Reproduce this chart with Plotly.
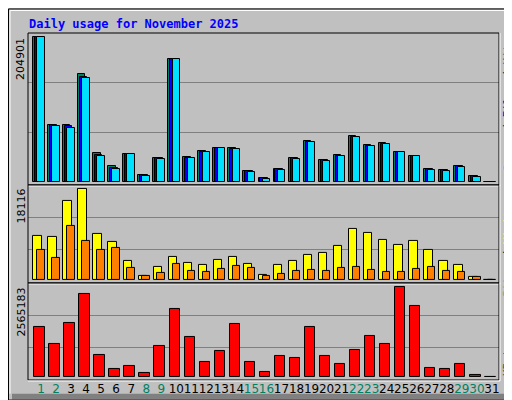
"""Daily usage for November 2025 (webalizer style)"""

import plotly.graph_objects as go
from plotly.subplots import make_subplots

days = list(range(1, 32))
weekend = [1, 2, 8, 9, 15, 16, 22, 23, 29, 30]

hits = [204901, 81100, 81100, 152000, 40800, 22700, 39400, 10200, 33800, 174300,
        35200, 43600, 47800, 47800, 15800, 6000, 18500, 33800, 57500, 31100,
        38000, 64400, 51900, 54700, 42200, 36600, 18500, 17200, 22700, 8800, 0]
files = [204901, 80400, 79000, 149000, 38500, 20000, 39400, 9500, 33200, 174300,
         34500, 42900, 47800, 47000, 15000, 5300, 17800, 33200, 56800, 30400,
         37300, 63700, 51200, 54000, 42200, 36600, 17800, 16500, 22000, 8100, 0]
pages = [204901, 79700, 75600, 146500, 36600, 18500, 39400, 8800, 32500, 174300,
         33800, 42200, 47800, 46400, 14400, 4600, 17200, 32500, 56100, 29700,
         36600, 63000, 50500, 53300, 42200, 36600, 17200, 15800, 21300, 7400, 0]

visits = [8660, 8460, 15750, 18116, 9050, 7490, 3780, 850, 2600, 4560,
          3390, 2990, 3970, 4560, 3190, 980, 2990, 3780, 4950, 5340,
          6700, 10220, 9240, 7880, 6900, 7680, 5920, 3780, 2990, 460, 0]
sites = [5920, 4360, 10810, 7680, 5920, 6310, 2410, 850, 1430, 3190,
         1820, 1630, 2210, 2800, 2410, 850, 1240, 1820, 2020, 1820,
         2410, 2600, 2020, 1630, 1630, 2210, 2600, 1820, 1630, 460, 0]

kbytes = [1413700, 936200, 1554100, 2368600, 627300, 234100, 318300, 121700, 880000, 1947300,
          1132800, 430700, 739600, 1497900, 430700, 149800, 599200, 543000, 1413700, 599200,
          374500, 767700, 1160900, 936200, 2565183, 2031600, 262100, 234100, 374500, 65500, 0]

HIT_C, FILE_C, PAGE_C = "#008060", "#0000FF", "#00E0FF"
VIS_C, SITE_C, KB_C = "#FFFF00", "#FF8000", "#FF0000"

fig = make_subplots(rows=3, cols=1, shared_xaxes=True, vertical_spacing=0,
                    row_heights=[155, 100, 99])

line = dict(color="black", width=1)
fig.add_trace(go.Bar(x=days, y=hits, marker=dict(color=HIT_C, line=line), offset=-0.53, width=0.49), row=1, col=1)
fig.add_trace(go.Bar(x=days, y=files, marker=dict(color=FILE_C, line=line), offset=-0.40, width=0.49), row=1, col=1)
fig.add_trace(go.Bar(x=days, y=pages, marker=dict(color=PAGE_C, line=line), offset=-0.25, width=0.49), row=1, col=1)
fig.add_trace(go.Bar(x=days, y=visits, marker=dict(color=VIS_C, line=line), offset=-0.51, width=0.56), row=2, col=1)
fig.add_trace(go.Bar(x=days, y=sites, marker=dict(color=SITE_C, line=line), offset=-0.25, width=0.49), row=2, col=1)
fig.add_trace(go.Bar(x=days, y=kbytes, marker=dict(color=KB_C, line=line), offset=-0.45, width=0.69), row=3, col=1)

# per-pixel scales for each panel
s1 = 204901 / 148
s2 = 18116 / 92.7
s3 = 2565183 / 91.4
grid = dict(showgrid=True, gridcolor="#808080", gridwidth=1, zeroline=False,
            showticklabels=False, ticks="", showline=False)
fig.update_yaxes(range=[-3 * s1, 152 * s1], tickvals=[50 * s1, 101 * s1], row=1, col=1, **grid)
fig.update_yaxes(range=[-3.3 * s2, 96.7 * s2], tickvals=[30.7 * s2, 63.4 * s2], row=2, col=1, **grid)
fig.update_yaxes(range=[-3.3 * s3, 95.7 * s3], tickvals=[29.7 * s3, 62.4 * s3], row=3, col=1, **grid)

ticktext = [f"<span style='color:{'#008060' if d in weekend else 'black'}'>{d}</span>" for d in days]
fig.update_xaxes(range=[0.135, 31.47], showgrid=False, zeroline=False, showline=False, ticks="")
fig.update_xaxes(tickvals=days, ticktext=ticktext, tickangle=0,
                 tickfont=dict(size=12, family="DejaVu Sans"), row=3, col=1)


def px(x):
    return (x - 20) / 471


def py(y):
    return (379 - y) / 354


P = dict(xref="paper", yref="paper")
shapes = [
    # outer frame and bevel
    dict(type="rect", x0=px(4), x1=px(511), y0=py(4), y1=py(399), fillcolor="#808080", line_width=0, layer="below", **P),
    dict(type="rect", x0=px(1), x1=px(505), y0=py(1), y1=py(393), fillcolor="#C0C0C0", line_width=0, layer="below", **P),
    dict(type="rect", x0=px(0.5), x1=px(511.5), y0=py(0.5), y1=py(399.5), line=dict(color="black", width=1), **P),
    dict(type="line", x0=px(2), x1=px(2), y0=py(2), y1=py(393), line=dict(color="white", width=1), **P),
    dict(type="line", x0=px(2), x1=px(504), y0=py(2), y1=py(2), line=dict(color="white", width=1), **P),
]
for top, bot in [(25, 180), (180, 280), (280, 379)]:
    shapes.append(dict(type="rect", x0=0, x1=1, y0=py(bot), y1=py(top),
                       line=dict(color="black", width=1), **P))
    shapes.append(dict(type="line", x0=0, x1=px(492), y0=py(bot + 1), y1=py(bot + 1),
                       line=dict(color="white", width=1), **P))
    shapes.append(dict(type="line", x0=px(492), x1=px(492), y0=py(bot + 1), y1=py(top),
                       line=dict(color="white", width=1), **P))

mono = "DejaVu Sans Mono"
annotations = [
    dict(x=px(19), y=py(16), text="<b>Daily usage for November 2025</b>", showarrow=False,
         xanchor="left", yanchor="middle", font=dict(family=mono, size=12, color="#0000FF")),
    dict(x=px(13), y=py(28), text="204901", textangle=-90, showarrow=False,
         xanchor="center", yanchor="top", font=dict(family="DejaVu Sans", size=11, color="black")),
    dict(x=px(13), y=py(182), text="18116", textangle=-90, showarrow=False,
         xanchor="center", yanchor="top", font=dict(family="DejaVu Sans", size=11, color="black")),
    dict(x=px(13), y=py(283), text="2565183", textangle=-90, showarrow=False,
         xanchor="center", yanchor="top", font=dict(family="DejaVu Sans", size=11, color="black")),
    dict(x=px(499), y=py(28), textangle=-90, showarrow=False, xanchor="center", yanchor="top",
         text=f"<span style='color:{PAGE_C}'>Pages</span> / <span style='color:{FILE_C}'>Files</span>"
              f" / <span style='color:{HIT_C}'>Hits</span>",
         font=dict(family=mono, size=11, color="black")),
    dict(x=px(499), y=py(198), textangle=-90, showarrow=False, xanchor="center", yanchor="top",
         text=f"<span style='color:{SITE_C}'>Sites</span> / <span style='color:{VIS_C}'>Visits</span>",
         font=dict(family=mono, size=11, color="black")),
    dict(x=px(499), y=py(377), textangle=-90, showarrow=False, xanchor="center", yanchor="bottom",
         text="KBytes", font=dict(family=mono, size=11, color=KB_C)),
]
for a in annotations:
    a.update(P)

fig.update_layout(
    width=512, height=400, margin=dict(l=20, r=21, t=25, b=21),
    paper_bgcolor="#C0C0C0", plot_bgcolor="#C0C0C0",
    showlegend=False, barmode="overlay", bargap=0,
    shapes=shapes, annotations=annotations,
)

fig.write_html("out.html")
